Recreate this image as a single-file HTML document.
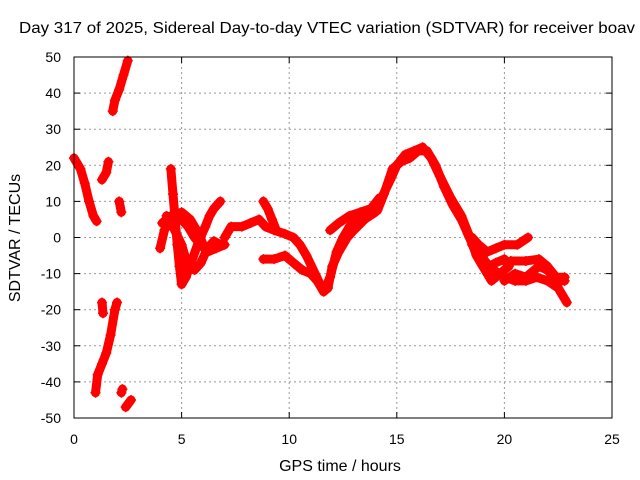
<!DOCTYPE html>
<html><head><meta charset="utf-8"><style>
body{margin:0;background:#fff;}
svg{display:block;font-family:"Liberation Sans",sans-serif;}
</style></head><body>
<svg id="chart" width="640" height="480">
<text x="19" y="33" font-size="16" textLength="616" lengthAdjust="spacingAndGlyphs" fill="#000">Day 317 of 2025, Sidereal Day-to-day VTEC variation (SDTVAR) for receiver boav</text>
<text x="340" y="471" font-size="16" text-anchor="middle">GPS time / hours</text>
<text x="0" y="0" font-size="16" text-anchor="middle" transform="translate(20,238) rotate(-90)">SDTVAR / TECUs</text>
<g id="grid"></g><g id="ticks"></g><g id="marks"></g>
<rect x="74" y="57" width="538" height="361" fill="none" stroke="#000" stroke-width="1"/>
</svg>
<script>
const xTicks=[0,5,10,15,20,25];
const yTicks=[-50,-40,-30,-20,-10,0,10,20,30,40,50];
const traceA=[[0,22],[0.3,19],[0.5,15],[0.7,10],[0.9,6],[1.05,4.5]];
const traceB=[[1.3,16],[1.5,18],[1.6,21]];
const traceC=[[2.1,10],[2.2,7]];
const traceD=[[1.8,35],[1.9,38],[2.1,41],[2.3,45],[2.5,49]];
const traceE=[[1.0,-43],[1.1,-38],[1.3,-35],[1.5,-32],[1.7,-27],[1.9,-20],[2.0,-18]];
const traceE2=[[1.3,-18],[1.35,-21]];
const traceF=[[2.2,-43],[2.25,-42]];
const traceF2=[[2.4,-47],[2.65,-45]];
const traceG=[[4.0,-3],[4.2,2],[4.4,5],[4.7,6],[5.0,5],[5.3,3],[5.6,0],[5.9,-2],[6.2,-4],[6.6,-3],[7.0,-2]];
const traceH=[[4.5,19],[4.6,12],[4.7,5],[4.8,-2],[4.9,-8],[5.0,-13],[5.2,-11],[5.5,-6],[5.8,-1],[6.1,3],[6.3,6],[6.5,8],[6.8,10]];
const traceI=[[4.3,6],[4.6,3],[5.0,-2],[5.3,-8],[5.6,-9],[5.9,-7],[6.2,-3],[6.5,-1],[6.8,-2]];
const traceJ=[[4.1,4],[4.5,6],[5.0,7],[5.4,5],[5.8,1],[6.0,-2]];
const traceK=[[7.0,0],[7.3,3],[7.8,3],[8.2,4],[8.6,5],[8.9,3],[9.3,2],[9.8,1],[10.2,0],[10.5,-2],[10.8,-5],[11.2,-10],[11.6,-15],[11.8,-14],[12.0,-8],[12.3,-4],[12.7,0],[13.0,2],[13.5,5],[14.0,7],[14.3,11],[14.7,16],[15.0,20],[15.4,23],[15.8,24],[16.2,25],[16.6,22],[17.0,17],[17.5,11],[18.0,6],[18.4,0],[18.7,-5],[19.0,-8],[19.5,-9],[20.0,-11],[20.5,-12],[21.0,-12],[21.5,-11],[22.0,-12],[22.5,-14],[22.9,-18]];
const traceK2=[[8.8,10],[9.0,8],[9.2,5],[9.4,2]];
const traceL=[[8.8,-6],[9.3,-6],[9.8,-5],[10.2,-7],[10.6,-9],[11.0,-10],[11.3,-12],[11.6,-15],[11.9,-11],[12.2,-4],[12.5,0],[12.8,3],[13.2,5],[13.7,7],[14.1,7.5],[14.4,12],[14.8,19],[15.2,21],[15.6,22],[16.0,24],[16.4,24],[16.8,20],[17.2,14],[17.6,9],[18.0,5],[18.3,1],[18.6,-3],[18.9,-7],[19.2,-10],[19.4,-12],[19.8,-10],[20.2,-8]];
const traceM=[[11.9,2],[12.3,4],[12.8,6],[13.3,7],[13.8,8],[14.2,11]];
const traceN=[[18.5,0],[18.8,-2],[19.2,-4],[19.6,-3],[20.0,-2],[20.6,-2],[21.1,0]];
const traceO=[[18.5,-2],[18.9,-5],[19.3,-8],[19.6,-7],[20.0,-6],[20.2,-8]];
const traceP=[[20.3,-6.5],[21.0,-6.5],[21.6,-6],[22.0,-8],[22.4,-11],[22.8,-11]];
const traceQ=[[20.0,-12],[20.5,-10],[21.0,-11],[21.6,-8],[22.0,-9],[22.4,-12],[22.8,-12]];
const traces=[traceA,traceB,traceC,traceD,traceE,traceE2,traceF,traceF2,traceG,traceH,traceI,traceJ,traceK,traceK2,traceL,traceM,traceN,traceO,traceP,traceQ];

const NS="http://www.w3.org/2000/svg";
const X0=74,X1=612,Y0=418,Y1=57;
function sx(v){return X0+(v-0)/25*(X1-X0);}
function sy(v){return Y0-(v+50)/100*(Y0-Y1);}
const grid=document.getElementById('grid'),ticks=document.getElementById('ticks'),marks=document.getElementById('marks');
function mk(tag,attrs,parent){const e=document.createElementNS(NS,tag);for(const k in attrs)e.setAttribute(k,attrs[k]);parent.appendChild(e);return e;}
xTicks.forEach(t=>{
  const x=sx(t);
  if(t>0&&t<25){const g=mk('line',{x1:x,x2:x,y1:Y1,y2:Y0,stroke:'#999','stroke-dasharray':'2,3'},grid);
  
  }
  mk('line',{x1:x,x2:x,y1:Y0,y2:Y0-6,stroke:'#000'},ticks);
  mk('line',{x1:x,x2:x,y1:Y1,y2:Y1+6,stroke:'#000'},ticks);
  const tx=mk('text',{x:x,y:Y0+26,'font-size':14,'text-anchor':'middle'},ticks);
  tx.textContent=t;
  
  
});
yTicks.forEach(t=>{
  const y=sy(t);
  if(t>-50&&t<50){const g=mk('line',{x1:X0,x2:X1,y1:y,y2:y,stroke:'#999','stroke-dasharray':'2,3'},grid);
  
  }
  mk('line',{x1:X0,x2:X0+6,y1:y,y2:y,stroke:'#000'},ticks);
  mk('line',{x1:X1,x2:X1-6,y1:y,y2:y,stroke:'#000'},ticks);
  const tx=mk('text',{x:X0-13,y:y+5,'font-size':14,'text-anchor':'end'},ticks);
  tx.textContent=t;
  
  
});
traces.forEach((tr,i)=>{
  const g=mk('g',{},marks);
  
  
  if(tr.length>1){
    mk('polyline',{points:tr.map(p=>sx(p[0])+','+sy(p[1])).join(' '),fill:'none',stroke:'#f00','stroke-width':9,'stroke-linejoin':'round','stroke-linecap':'round'},g);
  }
  tr.forEach(p=>{
    const x=sx(p[0]),y=sy(p[1]);
    const m=mk('path',{d:`M${x-5},${y}H${x+5}M${x},${y-5}V${y+5}`,stroke:'#f00','stroke-width':1.5},g);
    
    
  });
});
</script>
</body></html>
